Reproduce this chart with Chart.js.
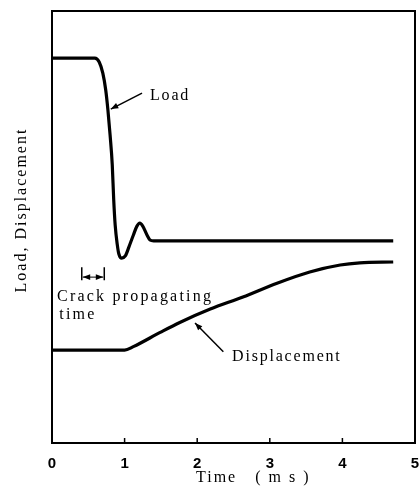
<!DOCTYPE html>
<html>
<head>
<meta charset="utf-8">
<script src="https://cdn.jsdelivr.net/npm/chart.js@4/dist/chart.umd.min.js"></script>
<style>
html,body{margin:0;padding:0;background:#fff;}
#wrap{width:420px;height:490px;position:relative;}
</style>
</head>
<body>
<div id="wrap"><canvas id="c" width="420" height="490"></canvas></div>
<script>
// Data (time in ms, load/displacement in arbitrary units 0-100)
const loadTime  = [0, 0.59, 0.65, 0.70, 0.74, 0.77, 0.80, 0.83, 0.85, 0.87, 0.90, 0.92, 0.96, 1.01, 1.06, 1.12, 1.17, 1.21, 1.25, 1.31, 1.35, 1.40, 4.70];
const loadValue = [89.1, 89.1, 88.2, 85.6, 81.7, 77.1, 71.3, 64.4, 56.3, 50.5, 45.8, 43.8, 42.8, 43.3, 45.4, 48.1, 50.2, 50.9, 50.2, 48.1, 47.0, 46.8, 46.8];
const dispTime  = [0, 1.0, 1.12, 1.49, 1.76, 2.18, 2.63, 3.10, 3.55, 3.97, 4.24, 4.70];
const dispValue = [21.5, 21.5, 22.3, 25.6, 27.9, 31.0, 33.8, 37.0, 39.6, 41.2, 41.7, 41.9];
const xTicks = [0, 1, 2, 3, 4, 5];
const xTitle = "Time   ( m s )";
const yTitle = "Load, Displacement";

const toPts = (xs, ys) => xs.map((x, i) => ({x: x, y: ys[i]}));

// Annotation layout (data coordinates)
const notes = {
  load:  {text: "Load", at: [1.35, 80.3], arrow: [[1.24, 81.0], [0.81, 77.3]]},
  disp:  {text: "Displacement", at: [2.48, 19.9], arrow: [[2.36, 21.1], [1.97, 27.8]]},
  crack: {lines: ["Crack propagating", "time"], at: [[0.07, 33.8], [0.10, 29.6]],
          bar: {x0: 0.41, x1: 0.72, yTop: 40.7, yBot: 37.7, yMid: 38.4}}
};

function arrow(ctx, x0, y0, x1, y1) {
  ctx.beginPath(); ctx.moveTo(x0, y0); ctx.lineTo(x1, y1); ctx.stroke();
  const a = Math.atan2(y1 - y0, x1 - x0), L = 8, w = 0.38;
  ctx.beginPath();
  ctx.moveTo(x1, y1);
  ctx.lineTo(x1 - L * Math.cos(a - w), y1 - L * Math.sin(a - w));
  ctx.lineTo(x1 - L * Math.cos(a + w), y1 - L * Math.sin(a + w));
  ctx.closePath(); ctx.fill();
}

const decor = {
  id: 'decor',
  afterDraw(chart) {
    const ctx = chart.ctx, ca = chart.chartArea;
    const xs = chart.scales.x, ys = chart.scales.y;
    const P = (x, y) => [xs.getPixelForValue(x), ys.getPixelForValue(y)];
    ctx.save();
    ctx.strokeStyle = '#000'; ctx.fillStyle = '#000';
    // frame
    ctx.lineWidth = 2;
    ctx.strokeRect(ca.left, ca.top, ca.right - ca.left, ca.bottom - ca.top);
    // inward ticks
    ctx.lineWidth = 1.5;
    xTicks.forEach(v => {
      if (v === 0 || v === 5) return;
      const px = xs.getPixelForValue(v);
      ctx.beginPath(); ctx.moveTo(px, ca.bottom); ctx.lineTo(px, ca.bottom - 5); ctx.stroke();
    });
    // text
    ctx.textBaseline = 'middle'; ctx.textAlign = 'left';
    ctx.font = '16px "Liberation Serif"';
    ctx.letterSpacing = '1.8px';
    let p = P(...notes.load.at); ctx.fillText(notes.load.text, p[0], p[1]);
    p = P(...notes.disp.at); ctx.fillText(notes.disp.text, p[0], p[1]);
    ctx.letterSpacing = '2.2px';
    notes.crack.lines.forEach((t, i) => { const q = P(...notes.crack.at[i]); ctx.fillText(t, q[0], q[1]); });
    // arrows
    ctx.lineWidth = 1.5;
    let a0 = P(...notes.load.arrow[0]), a1 = P(...notes.load.arrow[1]);
    arrow(ctx, a0[0], a0[1], a1[0], a1[1]);
    a0 = P(...notes.disp.arrow[0]); a1 = P(...notes.disp.arrow[1]);
    arrow(ctx, a0[0], a0[1], a1[0], a1[1]);
    // bracket
    const b = notes.crack.bar;
    const bl = P(b.x0, b.yTop), br = P(b.x1, b.yBot), bm = P(b.x0, b.yMid), bm2 = P(b.x1, b.yMid);
    ctx.lineWidth = 1.5;
    ctx.beginPath();
    ctx.moveTo(bl[0], bl[1]); ctx.lineTo(bl[0], br[1]);
    ctx.moveTo(br[0], bl[1]); ctx.lineTo(br[0], br[1]);
    ctx.stroke();
    ctx.lineWidth = 1;
    arrow(ctx, (bm[0] + bm2[0]) / 2, bm[1], bm[0] + 1, bm[1]);
    arrow(ctx, (bm[0] + bm2[0]) / 2, bm[1], bm2[0] - 1, bm[1]);
    // axis titles
    ctx.letterSpacing = '2px';
    ctx.font = '16px "Liberation Serif"';
    ctx.textAlign = 'left';
    ctx.fillText(xTitle, 196, 478);
    ctx.translate(22, 210);
    ctx.rotate(-Math.PI / 2);
    ctx.textAlign = 'center';
    ctx.fillText(yTitle, 0, 0);
    ctx.restore();
  }
};

new Chart(document.getElementById('c'), {
  type: 'line',
  data: {
    datasets: [
      {label: 'Load', data: toPts(loadTime, loadValue), borderColor: '#000', borderWidth: 3.2,
       pointRadius: 0, cubicInterpolationMode: 'monotone', fill: false},
      {label: 'Displacement', data: toPts(dispTime, dispValue), borderColor: '#000', borderWidth: 3.2,
       pointRadius: 0, cubicInterpolationMode: 'monotone', fill: false}
    ]
  },
  options: {
    responsive: false, animation: false,
    layout: {padding: {left: 52, right: 5, top: 11, bottom: 0}},
    plugins: {legend: {display: false}, tooltip: {enabled: false}},
    scales: {
      x: {type: 'linear', min: 0, max: 5,
          afterBuildTicks: s => { s.ticks = xTicks.map(v => ({value: v})); },
          afterFit: s => { s.height = 47; s.paddingLeft = 0; s.paddingRight = 0; },
          grid: {display: false, drawTicks: false}, border: {display: false},
          ticks: {color: '#000', padding: 12, font: {family: '"Liberation Sans"', size: 15, weight: 'bold'}, maxRotation: 0}},
      y: {type: 'linear', min: 0, max: 100, display: false}
    }
  },
  plugins: [decor]
});
</script>
</body>
</html>
